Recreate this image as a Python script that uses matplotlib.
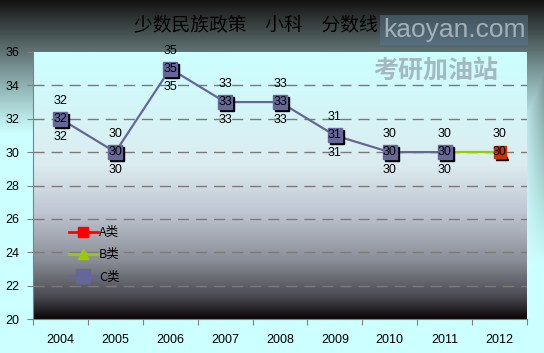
import numpy as np
import matplotlib
matplotlib.use("Agg")
import matplotlib.pyplot as plt
import matplotlib.transforms as mtransforms
from matplotlib.colors import LinearSegmentedColormap

plt.rcParams['font.family'] = ['Liberation Sans', 'Noto Sans CJK SC', 'DejaVu Sans']

# data
years = ['2004', '2005', '2006', '2007', '2008', '2009', '2010', '2011', '2012']
c_vals = [32, 30, 35, 33, 33, 31, 30, 30, np.nan]
b_vals = [np.nan] * 7 + [30, 30]
a_vals = [np.nan] * 8 + [30]
title = '少数民族政策\u3000小科\u3000分数线'
yticks = [20, 22, 24, 26, 28, 30, 32, 34, 36]

W, H = 544, 353
fig = plt.figure(figsize=(W / 100, H / 100), dpi=100)

# figure background: dark on top and on the right edge, light cyan lower down
bg = fig.add_axes([0, 0, 1, 1], zorder=-10)
yy = np.linspace(0, 1, H)[:, None]
xx = np.linspace(0, 1, W)[None, :]
cyan = np.array([0.80, 1.0, 1.0])
dark = np.array([0.08, 0.07, 0.07])
t_top = np.clip(1 - yy / 0.38, 0, 1) ** 1.1
t_right = np.clip((xx - 0.955) / 0.045, 0, 1) * np.clip(1 - yy / 0.75, 0, 1) * 0.6
t = np.clip(np.maximum(t_top, t_right), 0, 1)
img = cyan[None, None, :] * (1 - t[..., None]) + dark[None, None, :] * t[..., None]
bg.imshow(img, aspect='auto', extent=[0, 1, 0, 1])
bg.axis('off')

ax = fig.add_axes([33 / W, 1 - 319 / H, 494 / W, 267 / H])
ax.set_xlim(-0.5, 8.5)
ax.set_ylim(20, 36)

# plot area gradient
cmap = LinearSegmentedColormap.from_list('pa', [
    (0.0, '#0c0606'), (0.08, '#48484f'), (0.22, '#8a8e96'),
    (0.40, '#c0c6d2'), (0.58, '#dcecf0'), (0.80, '#d4f6f8'), (1.0, '#ccffff')])
grad = np.linspace(0, 1, 256)[:, None]
ax.imshow(grad, cmap=cmap, aspect='auto', origin='lower',
          extent=[-0.5, 8.5, 20, 36], zorder=0)

for y in yticks[1:-1]:
    ax.axhline(y, color='#7a7a7a', lw=1, ls=(0, (8, 5)), zorder=1)

x = np.arange(len(years))
lab_fs = 9

shadow = mtransforms.offset_copy(ax.transData, fig=fig, x=2, y=-2, units='dots')

ax.plot(x, c_vals, color='#666699', lw=1.6, zorder=3)
ax.plot(x, b_vals, color='#99cc00', lw=1.6, zorder=3)
ax.plot(x, b_vals, ls='none', marker='^', ms=9, color='black', transform=shadow, zorder=3.5)
ax.plot(x, b_vals, ls='none', marker='^', ms=9, color='#99cc00', zorder=3.6)
ax.plot(x, c_vals, ls='none', marker='s', ms=10, color='black', transform=shadow, zorder=4)
ax.plot(x, c_vals, ls='none', marker='s', ms=10, color='#666699', zorder=5)
ax.plot(x, a_vals, ls='none', marker='s', ms=9, color='#cc3300', zorder=6)

for i, v in enumerate(c_vals):
    if np.isnan(v):
        continue
    ax.text(i, v, str(int(v)), ha='center', va='center', fontsize=lab_fs, zorder=7)
    ax.annotate(str(int(v)), (i, v), xytext=(0, 13), textcoords='offset points',
                ha='center', va='center', fontsize=lab_fs, zorder=7)
    ax.annotate(str(int(v)), (i, v), xytext=(0, -13), textcoords='offset points',
                ha='center', va='center', fontsize=lab_fs, zorder=7)
ax.text(8, a_vals[8], str(int(a_vals[8])), ha='center', va='center', fontsize=lab_fs, zorder=7)
ax.annotate(str(int(a_vals[8])), (8, a_vals[8]), xytext=(0, 13), textcoords='offset points',
            ha='center', va='center', fontsize=lab_fs, zorder=7)

# legend
la, = ax.plot([], [], color='red', lw=2, marker='s', ms=7)
lb, = ax.plot([], [], color='#99cc00', lw=2, marker='^', ms=7)
lc, = ax.plot([], [], color='#666699', lw=2, marker='s', ms=10)
ax.legend([la, lb, lc], ['A类', 'B类', 'C类'], loc='lower left',
          bbox_to_anchor=(0.05, 0.09), frameon=False,
          handlelength=2.3, handletextpad=0.1, labelspacing=0.75,
          prop={'family': ['Noto Sans CJK SC'], 'size': 9})

ax.set_yticks(yticks)
ax.set_yticklabels([str(v) for v in yticks], fontsize=9)
ax.set_xticks(np.arange(-0.5, 9, 1))
ax.set_xticklabels([])
ax.set_xticks(x, minor=True)
ax.set_xticklabels(years, minor=True, fontsize=9)
ax.tick_params(axis='x', which='minor', length=0, pad=11)
ax.tick_params(axis='x', which='major', length=4, color='#808080', direction='out')
ax.tick_params(axis='y', length=4, color='#808080', direction='out', pad=6)
for s in ['top', 'right']:
    ax.spines[s].set_visible(False)
for s in ['left', 'bottom']:
    ax.spines[s].set_color('#808080')

# watermark text at top right
fig.text(0.835, 1 - 30 / H, 'kaoyan.com', ha='center', va='center', fontsize=19,
         color='#b8c4cc', alpha=0.8, zorder=1,
         bbox=dict(boxstyle='square,pad=0.1', fc='#5a7a90', ec='none', alpha=0.5))
fig.text(0.80, 1 - 72 / H, '考研加油站', ha='center', va='center', fontsize=18,
         color='#9aa8b0', alpha=0.8, fontweight='bold', family=['Noto Sans CJK SC'],
         zorder=1)

fig.text(0.47, 1 - 25 / H, title, ha='center', va='center', fontsize=13.5,
         family=['Noto Sans CJK SC'], color='black', zorder=5)

fig.savefig('out.png', dpi=100)
